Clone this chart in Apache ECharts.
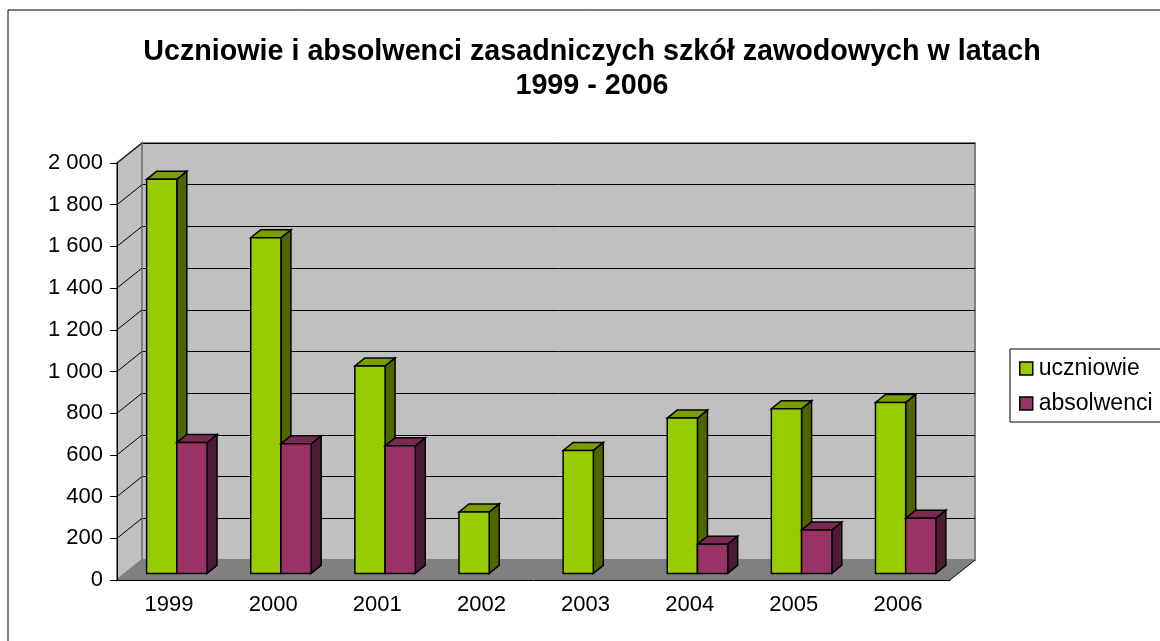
<!DOCTYPE html>
<html>
<head>
<meta charset="utf-8">
<script src="https://cdn.jsdelivr.net/npm/echarts@6/dist/echarts.min.js"></script>
<style>
  html, body { margin: 0; padding: 0; background: #fff; }
  #chart { width: 1160px; height: 641px; }
</style>
</head>
<body>
<div id="chart"></div>
<script>
// dane
const years = ['1999', '2000', '2001', '2002', '2003', '2004', '2005', '2006']
const uczniowie = [1890, 1610, 995, 295, 590, 745, 790, 820]
const absolwenci = [628, 622, 612, null, null, 140, 208, 265]
const yTicks = [0, 200, 400, 600, 800, 1000, 1200, 1400, 1600, 1800, 2000]

// glebokosc "3D" (przesuniecie tylnej sciany)
const DX = 25
const DY = -20
const FONT = 'Liberation Sans, Arial, sans-serif'

const chart = echarts.init(document.getElementById('chart'))

function fmt(v) {
  return String(v).replace(/\B(?=(\d{3})+(?!\d))/g, ' ')
}

// slupek 3D: przod, bok, gora
function barRenderer(slot, front, side, top) {
  return function (params, api) {
    const idx = api.value(0)
    const val = api.value(1)
    if (val == null || isNaN(val)) return
    const base = api.coord([idx, 0])
    const peak = api.coord([idx, val])
    const cw = api.size([1, 0])[0]
    const bw = cw * 0.29
    const ox = DX * 0.31, oy = DY * 0.33
    const dx = DX * 0.4, dy = DY * 0.4
    const x0 = base[0] + ox - bw + bw * slot
    const x1 = x0 + bw
    const yB = base[1] + oy
    const yT = peak[1] + oy
    const line = { stroke: '#000', lineWidth: 1.5 }
    return {
      type: 'group',
      children: [
        { type: 'polygon', shape: { points: [[x1, yB], [x1 + dx, yB + dy], [x1 + dx, yT + dy], [x1, yT]] },
          style: Object.assign({ fill: side }, line) },
        { type: 'polygon', shape: { points: [[x0, yT], [x1, yT], [x1 + dx, yT + dy], [x0 + dx, yT + dy]] },
          style: Object.assign({ fill: top }, line) },
        { type: 'rect', shape: { x: x0, y: yT, width: bw, height: yB - yT },
          style: Object.assign({ fill: front }, line) }
      ]
    }
  }
}

chart.setOption({
  animation: false,
  title: {
    text: 'Uczniowie i absolwenci zasadniczych szkół zawodowych w latach\n1999 - 2006',
    left: 587,
    top: 30,
    textAlign: 'center',
    textStyle: { fontFamily: FONT, fontSize: 28.7, fontWeight: 'bold', color: '#000', lineHeight: 34 }
  },
  legend: {
    orient: 'vertical',
    left: 1010,
    top: 349,
    padding: [8, 30, 7, 9],
    itemGap: 12,
    itemWidth: 13,
    itemHeight: 13,
    borderColor: '#000',
    borderWidth: 1,
    backgroundColor: '#fff',
    icon: 'rect',
    itemStyle: { borderColor: '#000', borderWidth: 1.5 },
    textStyle: { fontFamily: FONT, fontSize: 23, color: '#000', padding: [0, 0, 0, 1] },
    data: ['uczniowie', 'absolwenci']
  },
  grid: [
    // przednia plaszczyzna (osie)
    { left: 117, right: 210, top: 163, bottom: 61, outerBoundsMode: 'none' },
    // tylna sciana
    { left: 117 + DX, right: 210 - DX, top: 163 + DY, bottom: 61 - DY, outerBoundsMode: 'none',
      show: true, backgroundColor: '#c0c0c0', borderColor: '#808080', borderWidth: 2 }
  ],
  xAxis: [
    { type: 'category', gridIndex: 0, data: years, z: 5,
      axisLine: { lineStyle: { color: '#000', width: 1 } },
      axisTick: { length: 6, lineStyle: { color: '#000' } },
      axisLabel: { fontFamily: FONT, fontSize: 22, color: '#000', margin: 14 } },
    { type: 'category', gridIndex: 1, data: years, show: false }
  ],
  yAxis: [
    { type: 'value', gridIndex: 0, min: 0, max: 2000, interval: 200, z: 5,
      axisLine: { show: true, lineStyle: { color: '#000', width: 1 } },
      axisTick: { show: true, length: 7, lineStyle: { color: '#000' } },
      splitLine: { show: false },
      axisLabel: { fontFamily: FONT, fontSize: 22, color: '#000', margin: 14, formatter: fmt } },
    { type: 'value', gridIndex: 1, min: 0, max: 2000, interval: 200,
      axisLine: { show: false }, axisTick: { show: false }, axisLabel: { show: false },
      splitLine: { show: true, lineStyle: { color: '#000', width: 1 } } }
  ],
  series: [
    { name: 'uczniowie', type: 'custom', xAxisIndex: 0, yAxisIndex: 0, z: 3,
      itemStyle: { color: '#99cc00' },
      renderItem: barRenderer(0, '#99cc00', '#4d6600', '#7a9e00'),
      data: years.map((y, i) => [i, uczniowie[i]]) },
    { name: 'absolwenci', type: 'custom', xAxisIndex: 0, yAxisIndex: 0, z: 3,
      itemStyle: { color: '#993366' },
      renderItem: barRenderer(1, '#993366', '#4d1a33', '#7a2952'),
      data: years.map((y, i) => [i, absolwenci[i]]) }
  ]
})

// sciana boczna, podloga, ramka
const xl = 117, xr = 950
const yb = chart.convertToPixel({ yAxisIndex: 0 }, 0)
const yt = chart.convertToPixel({ yAxisIndex: 0 }, 2000)
const g = [
  { type: 'rect', shape: { x: 8, y: 10, width: 1300, height: 800 },
    style: { fill: null, stroke: '#000', lineWidth: 1 }, z: 0, silent: true },
  { type: 'polygon', shape: { points: [[xl, yt], [xl + DX, yt + DY], [xl + DX, yb + DY], [xl, yb]] },
    style: { fill: '#c0c0c0', stroke: '#808080', lineWidth: 2 }, z: 1, silent: true },
  { type: 'polygon', shape: { points: [[xl, yb], [xl + DX, yb + DY], [xr + DX, yb + DY], [xr, yb]] },
    style: { fill: '#808080' }, z: 1, silent: true },
  { type: 'line', shape: { x1: xr, y1: yb, x2: xr + DX, y2: yb + DY },
    style: { stroke: '#000', lineWidth: 1 }, z: 1, silent: true }
]
yTicks.forEach(function (v) {
  if (v === 0) return
  const y = chart.convertToPixel({ yAxisIndex: 0 }, v)
  g.push({ type: 'line', shape: { x1: xl, y1: y, x2: xl + DX, y2: y + DY },
    style: { stroke: '#000', lineWidth: 1 }, z: 1, silent: true })
})
chart.setOption({ graphic: g })
</script>
</body>
</html>
